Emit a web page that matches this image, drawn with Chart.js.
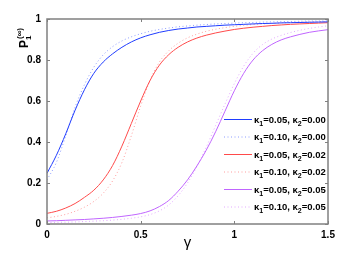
<!DOCTYPE html>
<html>
<head>
<meta charset="utf-8">
<script src="https://cdn.jsdelivr.net/npm/chart.js@4.4.0/dist/chart.umd.min.js"></script>
<style>
html,body{margin:0;padding:0;background:#fff;}
#wrap{width:362px;height:253px;position:relative;}
</style>
</head>
<body>
<div id="wrap"><canvas id="c" width="362" height="253"></canvas></div>
<script>
// gamma values (x)
const gammaValues = [0,0.05,0.1,0.15,0.2,0.25,0.3,0.35,0.4,0.45,0.5,0.55,0.6,0.65,0.7,0.75,0.8,0.85,0.9,0.95,1.0,1.05,1.1,1.15,1.2,1.25,1.3,1.35,1.4,1.45,1.5];
// P1(inf) series
const blueSolid  = [0.247,0.335,0.44,0.555,0.655,0.735,0.79,0.83,0.862,0.888,0.908,0.923,0.935,0.944,0.951,0.956,0.961,0.964,0.967,0.970,0.972,0.974,0.976,0.978,0.979,0.981,0.982,0.983,0.984,0.985,0.986];
const blueDotted = [0.215,0.30,0.43,0.57,0.68,0.765,0.825,0.865,0.893,0.913,0.928,0.94,0.949,0.956,0.962,0.966,0.970,0.973,0.976,0.978,0.980,0.982,0.983,0.985,0.986,0.987,0.988,0.989,0.990,0.990,0.991];
const redSolid   = [0.052,0.062,0.078,0.10,0.13,0.165,0.215,0.285,0.38,0.49,0.60,0.70,0.775,0.826,0.862,0.888,0.907,0.921,0.932,0.941,0.949,0.955,0.960,0.964,0.968,0.971,0.974,0.976,0.978,0.980,0.982];
const redDotted  = [0.03,0.037,0.047,0.062,0.082,0.11,0.15,0.21,0.30,0.43,0.575,0.70,0.79,0.845,0.882,0.908,0.926,0.94,0.95,0.958,0.964,0.969,0.973,0.976,0.979,0.981,0.983,0.985,0.986,0.987,0.988];
const purpleSolid  = [0.015,0.016,0.018,0.020,0.022,0.025,0.028,0.032,0.037,0.043,0.051,0.064,0.085,0.115,0.16,0.215,0.283,0.36,0.45,0.55,0.65,0.735,0.80,0.845,0.876,0.898,0.913,0.925,0.935,0.942,0.948];
const purpleDotted = [0.007,0.008,0.009,0.010,0.012,0.014,0.016,0.019,0.023,0.028,0.035,0.046,0.064,0.093,0.138,0.20,0.28,0.375,0.48,0.585,0.685,0.77,0.833,0.875,0.902,0.92,0.934,0.945,0.954,0.961,0.967];
// legend labels: [kappa1, kappa2]
const kappa1Labels = ['0.05','0.10','0.05','0.10','0.05','0.10'];
const kappa2Labels = ['0.00','0.00','0.02','0.02','0.05','0.05'];
// tick labels
const xTickLabels = ['0','0.5','1','1.5'];
const yTickLabels = ['0','0.2','0.4','0.6','0.8','1'];

const seriesList = [blueSolid, blueDotted, redSolid, redDotted, purpleSolid, purpleDotted];
const colors = ['#1f3cff','#8c9cff','#ff4a4a','#ff9e9e','#c065ff','#e2a8ff'];
const dashed = [false,true,false,true,false,true];

const datasets = seriesList.map((s,i)=>({
  label: 'k1=' + kappa1Labels[i] + ', k2=' + kappa2Labels[i],
  data: s.map((v,j)=>({x:gammaValues[j], y:v})),
  borderColor: colors[i],
  borderWidth: 1,
  borderDash: dashed[i] ? [1,2.5] : [],
  pointRadius: 0,
  fill: false,
  cubicInterpolationMode: 'monotone'
}));

const FONT = "'Liberation Sans', Arial, Helvetica, sans-serif";
const AXCOL = '#808080';

const framePlugin = {
  id: 'frame',
  afterDatasetsDraw(chart) {
    const ctx = chart.ctx, a = chart.chartArea;
    const xs = chart.scales.x, ys = chart.scales.y;
    ctx.save();
    ctx.strokeStyle = AXCOL;
    ctx.lineWidth = 1.5;
    ctx.strokeRect(a.left, a.top, a.right - a.left, a.bottom - a.top);
    ctx.lineWidth = 1;
    ctx.beginPath();
    xs.ticks.forEach(t => {
      const px = Math.round(xs.getPixelForValue(t.value)) + 0.5;
      ctx.moveTo(px, a.bottom); ctx.lineTo(px, a.bottom - 3);
      ctx.moveTo(px, a.top); ctx.lineTo(px, a.top + 3);
    });
    ys.ticks.forEach(t => {
      const py = Math.round(ys.getPixelForValue(t.value)) + 0.5;
      ctx.moveTo(a.left, py); ctx.lineTo(a.left + 3, py);
      ctx.moveTo(a.right, py); ctx.lineTo(a.right - 3, py);
    });
    ctx.stroke();

    // legend
    const rowY = [119, 136.5, 154, 171.5, 189, 206.5];
    chart.data.datasets.forEach((ds, i) => {
      const y = rowY[i];
      ctx.strokeStyle = ds.borderColor;
      ctx.lineWidth = 1;
      ctx.setLineDash(ds.borderDash || []);
      ctx.beginPath();
      ctx.moveTo(224, y + 0.5); ctx.lineTo(252, y + 0.5);
      ctx.stroke();
      ctx.setLineDash([]);
      ctx.fillStyle = '#000';
      ctx.textBaseline = 'alphabetic';
      ctx.textAlign = 'left';
      let x = 254;
      const base = y + 3.5;
      const big = 'bold 9.5px ' + FONT, small = 'bold 7px ' + FONT;
      const parts = [
        ['κ', big, 0], ['1', small, 3], ['=' + kappa1Labels[i] + ', κ', big, 0], ['2', small, 3], ['=' + kappa2Labels[i], big, 0]
      ];
      parts.forEach(p => {
        ctx.font = p[1];
        ctx.fillText(p[0], x, base + p[2]);
        x += ctx.measureText(p[0]).width;
      });
    });

    // y axis title P_1^(inf)
    ctx.save();
    ctx.translate(28, 48);
    ctx.rotate(-Math.PI / 2);
    ctx.fillStyle = '#000';
    ctx.textAlign = 'left';
    ctx.font = 'bold 12px ' + FONT;
    ctx.fillText('P', 0, 0);
    let w = ctx.measureText('P').width;
    ctx.font = 'bold 8px ' + FONT;
    ctx.fillText('1', w, 3);
    ctx.fillText('(∞)', w + 1, -6);
    ctx.restore();

    // x axis title
    ctx.fillStyle = '#000';
    ctx.textAlign = 'center';
    ctx.font = '15px ' + FONT;
    ctx.fillText('γ', (a.left + a.right) / 2, 247);
    ctx.restore();
  }
};

new Chart(document.getElementById('c'), {
  type: 'line',
  data: { datasets },
  options: {
    responsive: false,
    animation: false,
    devicePixelRatio: 1,
    layout: { padding: { left: 0, top: 19, right: 34, bottom: 0 } },
    plugins: { legend: { display: false }, tooltip: { enabled: false } },
    scales: {
      x: {
        type: 'linear', min: 0, max: 1.5,
        grid: { display: false, drawTicks: false },
        border: { display: false },
        ticks: {
          stepSize: 0.5, padding: 5, color: '#000', maxRotation: 0,
          font: { family: FONT, size: 10, weight: 'bold' },
          callback: (v, i) => xTickLabels[i]
        },
        afterFit: s => { s.height = 29; }
      },
      y: {
        type: 'linear', min: 0, max: 1,
        grid: { display: false, drawTicks: false },
        border: { display: false },
        ticks: {
          stepSize: 0.2, padding: 6, color: '#000',
          font: { family: FONT, size: 10, weight: 'bold' },
          callback: (v, i) => yTickLabels[i]
        },
        afterFit: s => { s.width = 47; }
      }
    }
  },
  plugins: [framePlugin]
});
</script>
</body>
</html>
